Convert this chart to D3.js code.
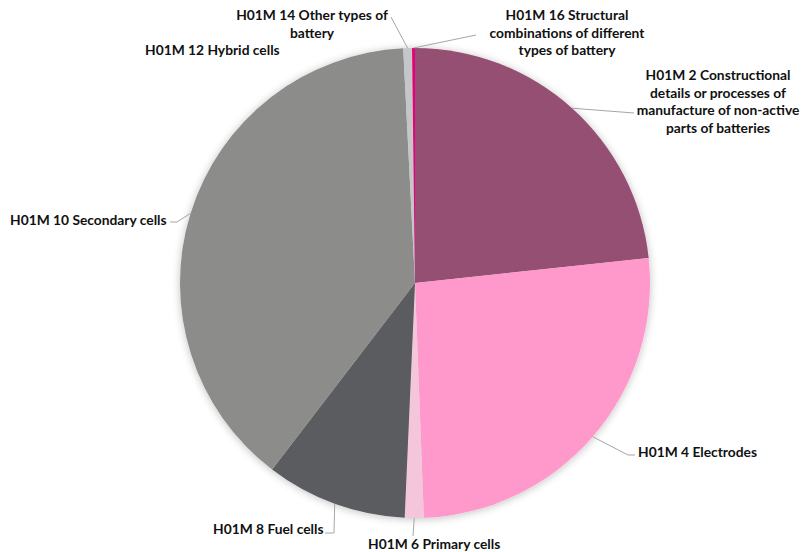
<!DOCTYPE html>
<html>
<head>
<meta charset="utf-8">
<script src="https://cdn.jsdelivr.net/npm/d3@7"></script>
<style>
  body { margin: 0; background: #fff; }
  svg text { font-family: Lato, "Open Sans", sans-serif; font-weight: bold; font-size: 13.8px; fill: #111; }
</style>
</head>
<body>
<svg id="chart" width="802" height="552"></svg>
<script>
// share of each H01M group (percent), clockwise from 12 o'clock
var categories = ["H01M 2", "H01M 4", "H01M 6", "H01M 8", "H01M 10", "H01M 12", "H01M 14", "H01M 16"];
var shares = [23.3, 26.1, 1.3, 9.7, 38.8, 0.0, 0.6, 0.2];
var labelLines = [
  ["H01M 2 Constructional", "details or processes of", "manufacture of non-active", "parts of batteries"],
  ["H01M 4 Electrodes"],
  ["H01M 6 Primary cells"],
  ["H01M 8 Fuel cells"],
  ["H01M 10 Secondary cells"],
  ["H01M 12 Hybrid cells"],
  ["H01M 14 Other types of", "battery"],
  ["H01M 16 Structural", "combinations of different", "types of battery"]
];
var colors = ["#954f72", "#ff99cc", "#f4c6dc", "#5a5b60", "#8c8c8a", "#d0d0d0", "#c4c6c8", "#e6007e"];

// label placement (layout only)
var labelPos = [
  { x: 718, y: 80, anchor: "middle", lead: [[634, 113]] },
  { x: 638, y: 457, anchor: "start", lead: [[628, 455], [635, 455]] },
  { x: 368, y: 549, anchor: "start", lead: [[413, 536]] },
  { x: 213, y: 534, anchor: "start", lead: [[334, 533], [325, 533]] },
  { x: 10, y: 225, anchor: "start", lead: [[177, 222], [170, 222]] },
  { x: 145, y: 55, anchor: "start", lead: null },
  { x: 312, y: 20, anchor: "middle", lead: [[391, 17]] },
  { x: 567, y: 20, anchor: "middle", lead: [[476, 35]] }
];

var cx = 415, cy = 283, r = 235;
var svg = d3.select("#chart");

var defs = svg.append("defs");
var f = defs.append("filter").attr("id", "shadow")
  .attr("x", "-10%").attr("y", "-10%").attr("width", "120%").attr("height", "120%");
f.append("feGaussianBlur").attr("in", "SourceAlpha").attr("stdDeviation", 4);
f.append("feOffset").attr("dx", 0).attr("dy", 1).attr("result", "b");
f.append("feComponentTransfer").append("feFuncA").attr("type", "linear").attr("slope", 0.25);
var m = f.append("feMerge");
m.append("feMergeNode");
m.append("feMergeNode").attr("in", "SourceGraphic");

var pie = d3.pie().sort(null).value(function(d) { return d; });
var arcs = pie(shares);
var arc = d3.arc().innerRadius(0).outerRadius(r);

var g = svg.append("g").attr("transform", "translate(" + cx + "," + cy + ")");
g.append("g").attr("filter", "url(#shadow)")
  .selectAll("path")
  .data(arcs)
  .enter().append("path")
  .attr("d", arc)
  .attr("fill", function(d, i) { return colors[i]; });

// leader lines from slice edge to label
arcs.forEach(function(d, i) {
  var p = labelPos[i];
  if (!p.lead || d.endAngle - d.startAngle <= 0) return;
  var a = (d.startAngle + d.endAngle) / 2;
  var pts = [[cx + r * Math.sin(a), cy - r * Math.cos(a)]].concat(p.lead);
  svg.append("path")
    .attr("d", d3.line()(pts))
    .attr("fill", "none")
    .attr("stroke", "#a6a6a6")
    .attr("stroke-width", 1);
});

// labels
labelLines.forEach(function(lines, i) {
  var p = labelPos[i];
  var t = svg.append("text")
    .attr("x", p.x).attr("y", p.y)
    .attr("text-anchor", p.anchor);
  lines.forEach(function(s, j) {
    t.append("tspan").attr("x", p.x).attr("dy", j === 0 ? 0 : 17.7).text(s);
  });
});
</script>
</body>
</html>
